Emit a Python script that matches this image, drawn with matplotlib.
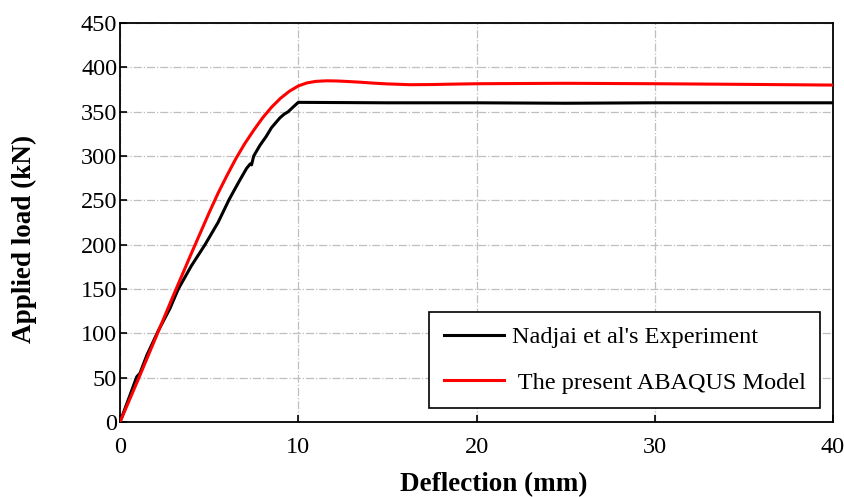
import matplotlib
matplotlib.use("Agg")
import matplotlib.pyplot as plt

# Experimental data (Nadjai et al.)
exp_x = [0.0, 0.5, 0.94, 1.12, 1.5, 2.15, 2.8, 3.27, 4.0, 4.77, 5.5, 6.1, 6.26, 6.7, 7.1, 7.3,
         7.38, 7.5, 7.85, 8.2, 8.5, 8.97, 9.2, 9.44, 9.7, 10.0, 15.0, 20.0, 25.0, 30.0, 35.0, 40.0]
exp_y = [0.0, 27, 51, 55, 75, 103, 128, 150, 176, 200, 225, 250, 256, 272, 286, 291,
         290, 300, 312, 322, 332, 343, 347, 350, 355, 360.5, 360, 360, 359.5, 360, 360, 360]

# ABAQUS model
fem_x = [0.0, 1.0, 2.0, 3.0, 4.0, 5.0, 5.5, 6.0, 6.5, 7.0, 7.5, 8.0, 8.5, 9.0, 9.5, 10.0,
         10.5, 11.0, 11.6, 12.2, 12.8, 13.5, 14.2, 15.0, 16.3, 17.5, 18.5,
         20.0, 25.0, 30.0, 35.0, 40.0]
fem_y = [0.0, 47, 95, 143, 190, 236, 258, 278, 297, 314, 329, 343, 355, 365, 373, 379,
         382.5, 384.2, 384.8, 384.6, 384.0, 383.2, 382.2, 381.3, 380.4, 380.6, 381.0,
         381.5, 382, 381.5, 380.8, 380]

xticks = [0, 10, 20, 30, 40]
yticks = list(range(0, 451, 50))

plt.rcParams['font.family'] = ['Liberation Serif', 'DejaVu Serif']
fig = plt.figure(figsize=(8.45, 4.97), dpi=100)
ax = fig.add_axes([120/845, 75/497, 713/845, 399/497])

ax.plot(exp_x, exp_y, color='black', lw=2.2, label="Nadjai et al's Experiment", zorder=3)
ax.plot(fem_x, fem_y, color='#ff0000', lw=2.2, label=" The present ABAQUS Model", zorder=4)

ax.set_xlim(0, 40)
ax.set_ylim(0, 450)
ax.set_xticks(xticks)
ax.set_yticks(yticks)
ax.tick_params(direction='in', length=5, width=1.2, labelsize=17.5, colors='black')
ax.tick_params(axis='x', pad=11)
ax.tick_params(axis='y', pad=2)
for s in ax.spines.values():
    s.set_linewidth(1.3)
    s.set_color('black')
ax.grid(True, color='#bfbfbf', linestyle='-.', lw=0.9)
ax.set_axisbelow(True)

ax.set_xlabel('Deflection (mm)', fontsize=19.5, fontweight='bold')
ax.set_ylabel('Applied load (kN)', fontsize=19.5, fontweight='bold')
ax.xaxis.set_label_coords((494 - 120) / 713, (422 - 472) / 399)
ax.yaxis.set_label_coords((37 - 120) / 713, (422 - 239) / 399)

leg = ax.legend(loc='center', bbox_to_anchor=(0.7076, 0.1554), fontsize=17.5,
                handlelength=2.5, labelspacing=0.95, borderpad=0.6, handletextpad=0.3,
                fancybox=False, framealpha=1, edgecolor='black')
leg.get_frame().set_linewidth(1.2)

fig.savefig('out.png', dpi=100)
